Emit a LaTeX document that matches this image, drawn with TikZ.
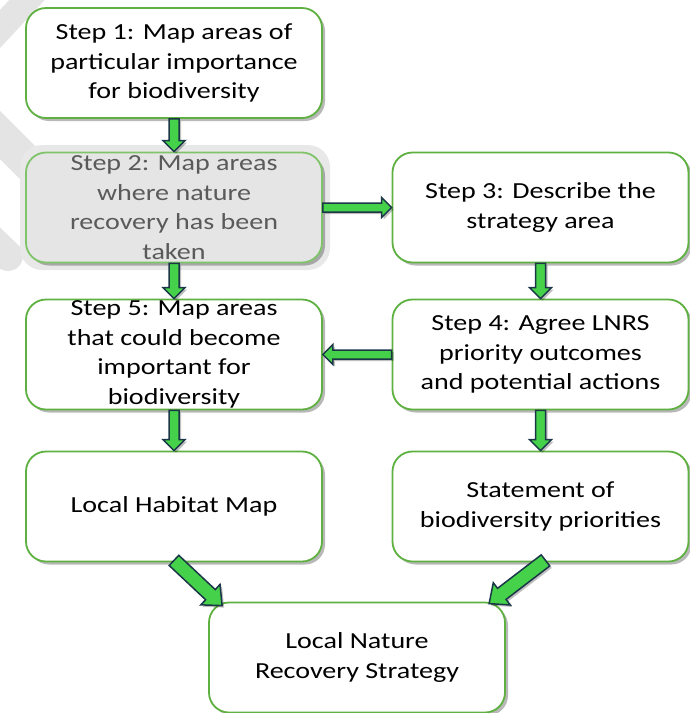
\documentclass[tikz,border=0pt]{standalone}
\usepackage{fontspec}
\setmainfont{Carlito}[FakeStretch=1.22]
\usetikzlibrary{shadows,calc}
\definecolor{boxgreen}{HTML}{5EB140}
\definecolor{boxgreenlt}{HTML}{80C46A}
\definecolor{arrowgreen}{HTML}{45D24A}
\definecolor{arrownavy}{HTML}{1B3747}
\definecolor{greytext}{HTML}{5A5A5A}
\definecolor{bandgrey}{HTML}{E4E4E4}
\tikzset{
  box/.style={draw=boxgreen, line width=1.8pt, rounded corners=20pt, fill=white,
    minimum width=296pt, minimum height=110pt, inner sep=0pt,
    drop shadow={shadow xshift=3pt, shadow yshift=-3pt, opacity=0.28, fill=black}},
  greybox/.style={box, draw=boxgreenlt, fill=black!10},
  txt/.style={align=center, inner sep=0pt, font=\fontsize{23}{29.5}\selectfont},
  band/.style={draw=bandgrey},
  arrowst/.style={draw=arrownavy, fill=arrowgreen, line width=1.5pt, line join=miter,
    drop shadow={shadow xshift=2pt, shadow yshift=-2pt, opacity=0.25, fill=black}}
}
% #1 from, #2 to, #3 shaft half width, #4 head half width, #5 head length
\newcommand\blockarrow[5]{%
  \coordinate (hb) at ($(#2)!#5!(#1)$);
  \draw[arrowst] ($(#1)!#3!90:(#2)$) -- ($(hb)!#3!-90:(#1)$) -- ($(hb)!#4!-90:(#1)$)
    -- (#2) -- ($(hb)!#4!90:(#1)$) -- ($(hb)!#3!90:(#1)$) -- ($(#1)!#3!-90:(#2)$) -- cycle;}
\begin{document}
\begin{tikzpicture}[x=1pt,y=-1pt]
\useasboundingbox (0,0) rectangle (689,713);
% faint background bands
\draw[band, line width=26pt] (40,-14) -- (-14,44);
\draw[band, line width=34pt] (-25,110) -- (70,205);
\draw[band, line width=30pt, line cap=round] (-45,205) -- (8,256);
% halo behind step 2
\fill[black!9, rounded corners=22pt] (20,145) rectangle (330,270);
% boxes
\node[box] (b1) at (174,63) {};
\node[greybox] (b2) at (174,207.5) {};
\node[box] (b3) at (540.5,207.5) {};
\node[box] (b5) at (174,354.5) {};
\node[box] (b4) at (540.5,354.5) {};
\node[box] (lhm) at (174,506.5) {};
\node[box] (stm) at (540.5,506.5) {};
\node[box] (lnrs) at (357,657.5) {};
% texts
\node[txt] (t1) at (b1) {Step 1: Map areas of\\particular importance\\for biodiversity};
\node[txt, text=greytext] (t2) at (b2) {Step 2: Map areas\\where nature\\recovery has been\\taken};
\node[txt] (t3) at (b3) {Step 3: Describe the\\strategy area};
\node[txt] (t5) at (b5) {Step 5: Map areas\\that could become\\important for\\biodiversity};
\node[txt] (t4) at (b4) {Step 4: Agree LNRS\\priority outcomes\\and potential actions};
\node[txt] (t6) at (lhm) {Local Habitat Map};
\node[txt] (t7) at (stm) {Statement of\\biodiversity priorities};
\node[txt] (t8) at (lnrs) {Local Nature\\Recovery Strategy};
% connectors
\coordinate (d1s) at ($(lhm.south)+(0,-2)$);
\coordinate (d1e) at ($(lnrs.north west)+(14,4)$);
\coordinate (d2s) at ($(stm.south)+(5,-2)$);
\coordinate (d2e) at ($(lnrs.north west)+(281,2)$);
\blockarrow{b1.south}{b2.north}{5pt}{11pt}{11pt}
\blockarrow{b2.south}{b5.north}{5pt}{11pt}{11pt}
\blockarrow{b5.south}{lhm.north}{5pt}{11pt}{11pt}
\blockarrow{b3.south}{b4.north}{5pt}{11pt}{11pt}
\blockarrow{b4.south}{stm.north}{5pt}{11pt}{11pt}
\blockarrow{b2.east}{b3.west}{4.5pt}{10pt}{10pt}
\blockarrow{b4.west}{b5.east}{4.5pt}{10pt}{10pt}
\blockarrow{d1s}{d1e}{7pt}{14pt}{16pt}
\blockarrow{d2s}{d2e}{7pt}{14pt}{16pt}
\end{tikzpicture}
\end{document}
